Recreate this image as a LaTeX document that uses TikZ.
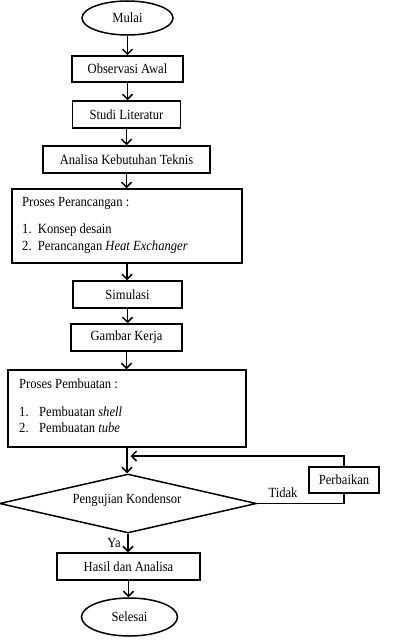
\documentclass[tikz,border=0pt]{standalone}
\usepackage{fontspec}
\setmainfont{Liberation Serif}[FakeStretch=0.9]
\usetikzlibrary{shapes.geometric,arrows.meta}
\begin{document}
\begin{tikzpicture}[x=1pt,y=-1pt,
  every node/.style={font=\fontsize{14}{16}\selectfont},
  box/.style={draw,line width=1.5pt,rectangle,inner sep=0pt},
  oval/.style={draw,line width=1.5pt,ellipse,inner sep=0pt},
  txt/.style={inner sep=0pt,anchor=west},
  arr/.style={line width=1.5pt,-{Straight Barb[length=5pt,width=10pt,line width=1.5pt]}},
  ln/.style={line width=1.5pt}]
\useasboundingbox (0,0) rectangle (404,644);
\node[oval,minimum width=91pt,minimum height=34pt] (mulai) at (127.5,18) {Mulai};
\node[box,minimum width=111pt,minimum height=26pt] (obs) at (127.5,69) {Observasi Awal};
\node[box,minimum width=108pt,minimum height=27pt] (studi) at (126.5,114.5) {Studi Literatur};
\node[box,minimum width=167pt,minimum height=27pt] (anl) at (126.5,159.5) {Analisa Kebutuhan Teknis};
\node[box,minimum width=230pt,minimum height=74pt] (pp) at (127,226) {};
\node[txt] (pp0) at (22,203) {Proses Perancangan :};
\node[txt] (pp1) at (22,230) {1.\ \ Konsep desain};
\node[txt] (pp2) at (22,247) {2.\ \ Perancangan \textit{Heat Exchanger}};
\node[box,minimum width=109pt,minimum height=27pt] (sim) at (127.5,294.5) {Simulasi};
\node[box,minimum width=111pt,minimum height=27pt] (gk) at (126.5,337.5) {Gambar Kerja};
\node[box,minimum width=238pt,minimum height=77pt] (pb) at (127,408.5) {};
\node[txt] (pb0) at (19,384) {Proses Pembuatan :};
\node[txt] (pb1n) at (19,412) {1.};
\node[txt] (pb1) at (39,412) {Pembuatan \textit{shell}};
\node[txt] (pb2n) at (19,428) {2.};
\node[txt] (pb2) at (39,428) {Pembuatan \textit{tube}};
\node[draw,line width=1.5pt,diamond,inner sep=0pt,aspect=4.36,minimum width=257pt,minimum height=59pt] (dia) at (128,503.5) {};
\node[inner sep=0pt] (dial) at (127,500) {Pengujian Kondensor};
\node[box,minimum width=70pt,minimum height=26pt] (perb) at (344,480) {Perbaikan};
\node[inner sep=0pt] (tidak) at (283,493) {Tidak};
\node[inner sep=0pt] (ya) at (114,543) {Ya};
\node[box,minimum width=143pt,minimum height=27pt] (hasil) at (128.5,566.5) {Hasil dan Analisa};
\node[oval,minimum width=96pt,minimum height=38pt] (sel) at (129.5,617) {Selesai};
\coordinate (j) at (130.5,456);
\draw[arr] (mulai.south) -- (mulai.south |- obs.north);
\draw[arr] (obs.south) -- (obs.south |- studi.north);
\draw[arr] (studi.south) -- (studi.south |- anl.north);
\draw[arr] (anl.south) -- (anl.south |- pp.north);
\draw[arr] (pp.south) -- (pp.south |- sim.north);
\draw[arr] (sim.south) -- (sim.south |- gk.north);
\draw[arr] (gk.south) -- (gk.south |- pb.north);
\draw[arr] (pb.south) -- (pb.south |- dia.north);
\draw[arr] (dia.south) -- (dia.south |- hasil.north);
\draw[arr] (hasil.south) -- (hasil.south |- sel.north);
\draw[ln] (dia.east) -- (perb.south |- dia.east) -- (perb.south);
\draw[arr] (perb.north) -- (perb.north |- j) -- (j);
\end{tikzpicture}
\end{document}
